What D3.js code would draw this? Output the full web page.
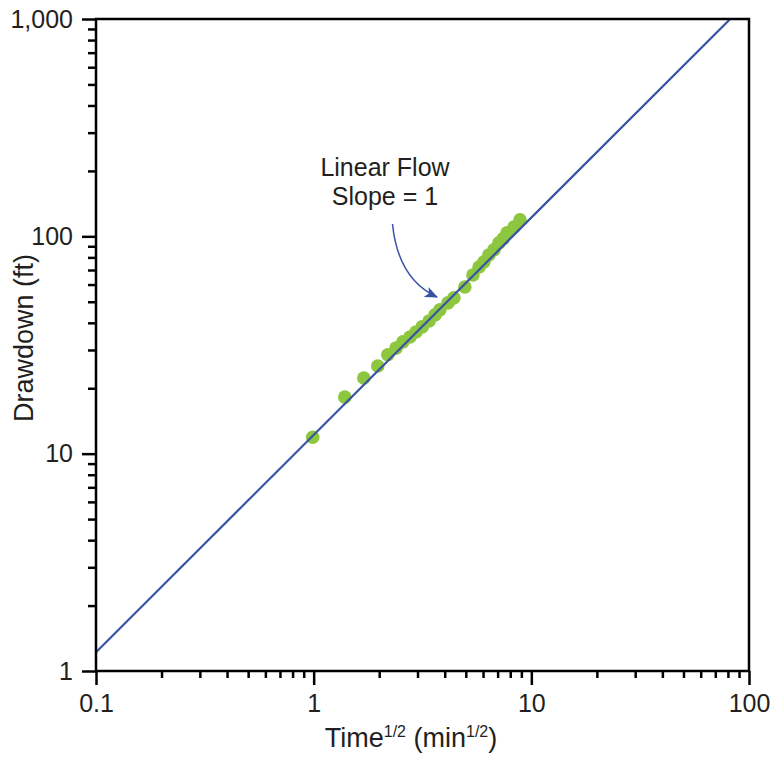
<!DOCTYPE html>
<html>
<head>
<meta charset="utf-8">
<script src="https://cdn.jsdelivr.net/npm/d3@7"></script>
<style>
  html, body { margin: 0; padding: 0; background: #fff; }
  svg { display: block; font-family: "Liberation Sans", Arial, Helvetica, sans-serif; }
</style>
</head>
<body>
<svg id="chart" width="770" height="762"></svg>
<script>
// ---- data ----
const timeSqrt = [0.99, 1.39, 1.70, 1.97, 2.19, 2.39, 2.57, 2.77, 2.95, 3.15, 3.39, 3.61, 3.80, 4.14, 4.41, 4.95, 5.39, 5.75, 6.06, 6.38, 6.73, 7.10, 7.41, 7.73, 8.32, 8.87];
const drawdown = [11.9, 18.2, 22.3, 25.3, 28.5, 30.6, 32.7, 34.4, 36.3, 38.3, 40.8, 43.5, 45.9, 49.4, 52.1, 58.5, 66.4, 72.3, 76.3, 82.1, 86.6, 93.3, 97.3, 103.7, 110.4, 119.0];
const fitX = [0.1, 82];
const fitY = [1.22, 1000];
const xTickValues = [0.1, 1, 10, 100];
const xTickLabels = ["0.1", "1", "10", "100"];
const yTickValues = [1, 10, 100, 1000];
const yTickLabels = ["1", "10", "100", "1,000"];
const annotationLines = ["Linear Flow", "Slope = 1"];

// ---- layout ----
const L = 96, R = 749, T = 19, B = 671;
const svg = d3.select("#chart");
const x = d3.scaleLog().domain([0.1, 100]).range([L, R]);
const y = d3.scaleLog().domain([1, 1000]).range([B, T]);
const txt = "#231f20";

svg.append("defs").append("clipPath").attr("id", "clip")
  .append("rect").attr("x", L).attr("y", T).attr("width", R - L).attr("height", B - T);

// minor ticks
function minors(domain) {
  const out = [];
  for (let e = Math.log10(domain[0]); e < Math.log10(domain[1]); e++) {
    for (let k = 2; k <= 9; k++) out.push(k * Math.pow(10, e));
  }
  return out;
}

const xAxisMinor = d3.axisBottom(x).tickValues(minors(x.domain())).tickSize(7).tickFormat("");
const xAxisMajor = d3.axisBottom(x).tickValues(xTickValues).tickSize(14).tickPadding(9)
  .tickFormat((d, i) => xTickLabels[i]);
const yAxisMinor = d3.axisLeft(y).tickValues(minors(y.domain())).tickSize(8).tickFormat("");
const yAxisMajor = d3.axisLeft(y).tickValues(yTickValues).tickSize(14).tickPadding(9)
  .tickFormat((d, i) => yTickLabels[i]);

function style(g) {
  g.select(".domain").remove();
  g.selectAll("line").attr("stroke", "#000").attr("stroke-width", 2.5);
  g.selectAll("text").attr("fill", txt).style("font-size", "25px")
    .style("font-family", '"Liberation Sans", Arial, sans-serif');
}

svg.append("g").attr("transform", `translate(0,${B})`).call(xAxisMinor).call(style);
svg.append("g").attr("transform", `translate(0,${B})`).call(xAxisMajor).call(style);
svg.append("g").attr("transform", `translate(${L},0)`).call(yAxisMinor).call(style);
svg.append("g").attr("transform", `translate(${L},0)`).call(yAxisMajor).call(style);

// points
const pts = timeSqrt.map((t, i) => ({ t, d: drawdown[i] }));
svg.append("g").attr("clip-path", "url(#clip)")
  .selectAll("circle").data(pts).enter().append("circle")
  .attr("cx", d => x(d.t)).attr("cy", d => y(d.d)).attr("r", 6.8)
  .attr("fill", "#8dc63f");

// fit line
svg.append("path").attr("clip-path", "url(#clip)")
  .datum(fitX.map((v, i) => [v, fitY[i]]))
  .attr("d", d3.line().x(d => x(d[0])).y(d => y(d[1])))
  .attr("fill", "none").attr("stroke", "#3953a4").attr("stroke-width", 2.2);

// frame
svg.append("rect").attr("x", L).attr("y", T).attr("width", R - L).attr("height", B - T)
  .attr("fill", "none").attr("stroke", "#000").attr("stroke-width", 2.5);

// annotation
const ann = svg.append("text").attr("fill", txt).style("font-size", "25px").attr("text-anchor", "middle");
annotationLines.forEach((s, i) => {
  ann.append("tspan").attr("x", 385).attr("y", 176 + i * 29).text(s);
});
svg.append("defs").append("marker").attr("id", "arrow")
  .attr("viewBox", "0 0 12 10").attr("refX", 11).attr("refY", 5)
  .attr("markerWidth", 13).attr("markerHeight", 11).attr("markerUnits", "userSpaceOnUse")
  .attr("orient", "auto")
  .append("path").attr("d", "M0,0 L12,5 L0,10 L3,5 Z").attr("fill", "#3953a4");
svg.append("path").attr("d", "M392.5,224 Q398,279 437,297")
  .attr("fill", "none").attr("stroke", "#3953a4").attr("stroke-width", 1.5)
  .attr("marker-end", "url(#arrow)");

// axis titles
const xt = svg.append("text").attr("x", 411).attr("y", 747).attr("text-anchor", "middle")
  .attr("fill", txt).style("font-size", "27px");
xt.append("tspan").text("Time");
xt.append("tspan").attr("dy", -10).style("font-size", "16px").text("1/2");
xt.append("tspan").attr("dy", 10).text(" (min");
xt.append("tspan").attr("dy", -10).style("font-size", "16px").text("1/2");
xt.append("tspan").attr("dy", 10).text(")");

svg.append("text").attr("transform", "translate(33,338) rotate(-90)")
  .attr("text-anchor", "middle").attr("fill", txt).style("font-size", "27px")
  .text("Drawdown (ft)");
</script>
</body>
</html>
